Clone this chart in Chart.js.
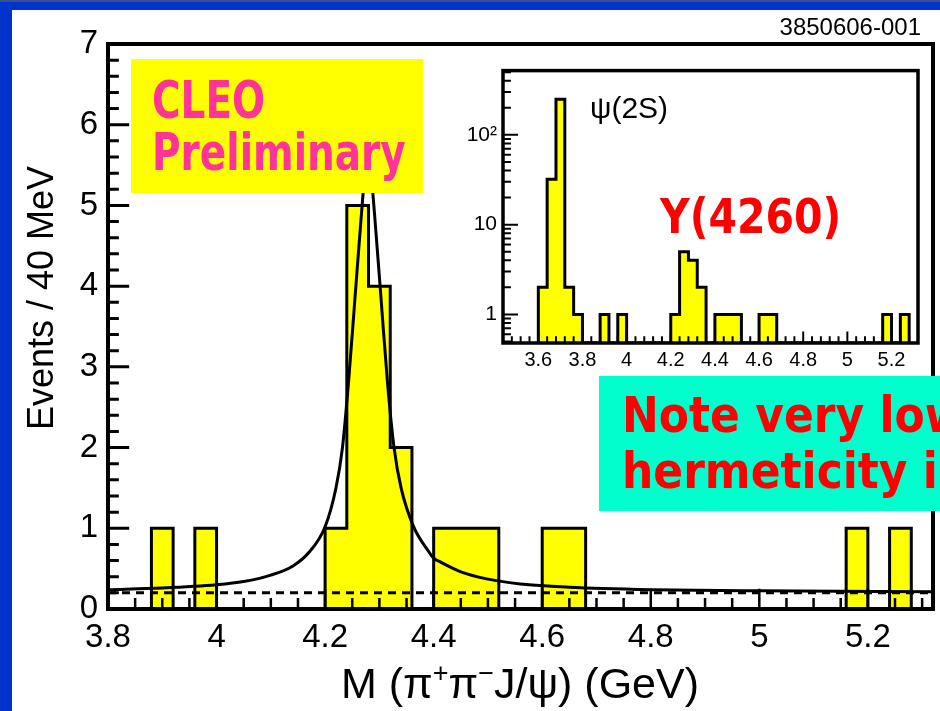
<!DOCTYPE html>
<html>
<head>
<meta charset="utf-8">
<script src="https://cdn.jsdelivr.net/npm/chart.js@4.4.1/dist/chart.umd.min.js"></script>
<style>
html,body{margin:0;padding:0;background:#0033cc;overflow:hidden;}
#wrap{position:relative;width:940px;height:711px;}
canvas{position:absolute;display:block;}
#main{left:0;top:0;}
#inset{left:455px;top:52px;}
</style>
</head>
<body>
<div id="wrap">
<canvas id="main" width="940" height="711"></canvas>
<canvas id="inset" width="470" height="322"></canvas>
</div>
<script>
// ---------------- data ----------------
const binWidth = 0.04; // GeV (40 MeV bins)

// main histogram: lower edge of non-empty bins and their counts
const mainBinLow = [3.88, 3.96, 4.20, 4.24, 4.28, 4.32, 4.40, 4.44, 4.48, 4.60, 4.64, 5.16, 5.24];
const mainCounts = [1, 1, 1, 5, 4, 2, 1, 1, 1, 1, 1, 1, 1];

// fitted signal + background curve
const fitMass   = [3.80, 3.90, 4.00, 4.05, 4.10, 4.14, 4.17, 4.20, 4.22, 4.232, 4.243, 4.255, 4.267, 4.273, 4.279, 4.285, 4.291, 4.303, 4.315, 4.327, 4.34, 4.363, 4.39, 4.40, 4.413, 4.45, 4.50, 4.56, 4.65, 4.80, 5.00, 5.32];
const fitEvents = [0.24, 0.26, 0.30, 0.34, 0.42, 0.53, 0.70, 1.02, 1.50, 2.00, 2.80, 3.85, 4.90, 5.35, 5.50, 5.35, 4.90, 3.85, 2.80, 2.00, 1.50, 1.02, 0.72, 0.63, 0.58, 0.46, 0.37, 0.31, 0.27, 0.24, 0.225, 0.215];

// background level (dashed)
const bgMass   = [3.80, 5.32];
const bgEvents = [0.20, 0.20];

const mainXTicks      = [3.8, 4.0, 4.2, 4.4, 4.6, 4.8, 5.0, 5.2];
const mainXTickLabels = ['3.8', '4', '4.2', '4.4', '4.6', '4.8', '5', '5.2'];
const mainYTicks      = [0, 1, 2, 3, 4, 5, 6, 7];
const mainYTickLabels = ['0', '1', '2', '3', '4', '5', '6', '7'];

// inset histogram (log scale)
const insetBinLow = [3.60, 3.64, 3.68, 3.72, 3.76, 3.88, 3.96, 4.20, 4.24, 4.28, 4.32, 4.40, 4.44, 4.48, 4.60, 4.64, 5.16, 5.24];
const insetCounts = [2, 32, 250, 2, 1, 1, 1, 1, 5, 4, 2, 1, 1, 1, 1, 1, 1, 1];
const insetXTicks      = [3.6, 3.8, 4.0, 4.2, 4.4, 4.6, 4.8, 5.0, 5.2];
const insetXTickLabels = ['3.6', '3.8', '4', '4.2', '4.4', '4.6', '4.8', '5', '5.2'];
const insetYTicks      = [1, 10, 100];
const insetYTickLabels = ['1', '10', '10\u00B2'];

const mainXRange  = [3.80, 5.32];
const mainYRange  = [0, 7];
const insetXRange = [3.44, 5.32];
const insetYRange = [0.48, 520];

// ---------------- helpers ----------------
const SANS = "'Liberation Sans', Arial, Helvetica, sans-serif";
const FUN  = "'DejaVu Sans', 'Noto Sans', sans-serif";

function stepPoints(lows, counts, width, base) {
  const pts = [];
  let prevHi = null;
  lows.forEach((lo, i) => {
    const hi = Math.round((lo + width) * 10000) / 10000;
    const h = counts[i];
    if (prevHi === null || Math.abs(prevHi - lo) > 1e-6) {
      if (prevHi !== null) pts.push({x: prevHi, y: base});
      pts.push({x: lo, y: base});
    }
    pts.push({x: lo, y: h});
    pts.push({x: hi, y: h});
    prevHi = hi;
  });
  pts.push({x: prevHi, y: base});
  return pts;
}
function zip(xs, ys) { return xs.map((x, i) => ({x: x, y: ys[i]})); }

// tick-mark segments expressed in data units (null point = break in the line)
function xTickSegments(values, base, tipFn) {
  const out = [];
  values.forEach(v => { out.push({x: v, y: base}); out.push({x: v, y: tipFn(v)}); out.push({x: v, y: null}); });
  return out;
}
function yTickSegments(values, base, tipFn) {
  const out = [];
  values.forEach(v => { out.push({x: base, y: v}); out.push({x: tipFn(v), y: v}); out.push({x: base, y: null}); });
  return out;
}
function stepValues(a, b, step) {
  const out = [];
  const n = Math.round((b - a) / step);
  for (let k = 0; k <= n; k++) out.push(Math.round((a + k * step) * 1e6) / 1e6);
  return out;
}
function isMultiple(v, step) { return Math.abs(v / step - Math.round(v / step)) < 1e-6; }

function drawStretched(ctx, text, x, y, font, color, sy) {
  ctx.save();
  ctx.translate(x, y);
  ctx.scale(1, sy);
  ctx.font = font;
  ctx.fillStyle = color;
  ctx.textAlign = 'left';
  ctx.textBaseline = 'alphabetic';
  ctx.fillText(text, 0, 0);
  ctx.restore();
}

function drawPieces(ctx, pieces, cx, baseY, size, family) {
  let total = 0;
  const widths = pieces.map(p => {
    ctx.font = (p.sup ? Math.round(size * 0.62) : size) + 'px ' + family;
    const w = ctx.measureText(p.t).width;
    total += w;
    return w;
  });
  let x = cx - total / 2;
  pieces.forEach((p, i) => {
    ctx.font = (p.sup ? Math.round(size * 0.62) : size) + 'px ' + family;
    ctx.fillText(p.t, x, p.sup ? baseY - size * 0.38 : baseY);
    x += widths[i];
  });
}

// ---------------- tick mark datasets ----------------
// main: x ticks every 0.05 GeV (long every 0.2), y ticks every 0.2 (long every 1)
const mainXTickData = xTickSegments(stepValues(3.80, 5.30, 0.05), 0,
  v => isMultiple(v - 3.8, 0.2) ? 0.25 : 0.135);
const mainYTickData = yTickSegments(stepValues(0, 7, 0.2), 3.80,
  v => 3.80 + (isMultiple(v, 1) ? 0.039 : 0.02));
// inset: x ticks every 0.04 GeV (long every 0.2), y ticks at 1..9 x 10^n (long at decades)
const insetXTickData = xTickSegments(stepValues(3.44, 5.32, 0.04), insetYRange[0],
  v => insetYRange[0] * (isMultiple(v - 3.6, 0.2) ? 1.34 : 1.19));
const insetLogTicks = [0.5, 0.6, 0.7, 0.8, 0.9, 1, 2, 3, 4, 5, 6, 7, 8, 9, 10, 20, 30, 40, 50, 60, 70, 80, 90, 100, 200, 300, 400, 500];
const insetYTickData = yTickSegments(insetLogTicks, insetXRange[0],
  v => insetXRange[0] + ([1, 10, 100].includes(v) ? 0.068 : 0.036));

function tickDataset(label, data, width) {
  return { label: label, data: data, borderColor: '#000000', borderWidth: width, pointRadius: 0,
           fill: false, spanGaps: false, tension: 0, order: 0, borderCapStyle: 'butt' };
}

// ---------------- main chart ----------------
const mainPlugin = {
  id: 'mainDecor',
  beforeDraw(chart) {
    const ctx = chart.ctx;
    ctx.save();
    ctx.fillStyle = '#0033cc';
    ctx.fillRect(0, 0, chart.width, chart.height);
    ctx.fillStyle = '#3b4f8f';
    ctx.fillRect(0, 0, chart.width, 2);
    ctx.fillStyle = '#ffffff';
    ctx.fillRect(12, 10, chart.width - 12, chart.height - 10);
    ctx.restore();
  },
  afterDraw(chart) {
    const ctx = chart.ctx, ca = chart.chartArea;
    ctx.save();
    ctx.strokeStyle = '#000000';
    ctx.setLineDash([]);
    ctx.lineWidth = 4;
    ctx.strokeRect(ca.left, ca.top, ca.right - ca.left, ca.bottom - ca.top);

    // axis titles
    ctx.fillStyle = '#000';
    ctx.textAlign = 'left';
    ctx.textBaseline = 'alphabetic';
    drawPieces(ctx, [
      {t: 'M (\u03C0'}, {t: '+', sup: true}, {t: '\u03C0'}, {t: '\u2212', sup: true},
      {t: 'J/\u03C8) (GeV)'}
    ], 520, 698, 43, SANS);
    ctx.save();
    ctx.translate(53, 298);
    ctx.rotate(-Math.PI / 2);
    ctx.font = '36px ' + SANS;
    ctx.textAlign = 'center';
    ctx.fillText('Events / 40 MeV', 0, 0);
    ctx.restore();

    // CLEO Preliminary
    ctx.fillStyle = '#ffff00';
    ctx.fillRect(131, 59, 292, 134);
    drawStretched(ctx, 'CLEO', 152, 118, 'bold 39px ' + FUN, '#ff3399', 1.3);
    drawStretched(ctx, 'Preliminary', 152, 170, 'bold 39px ' + FUN, '#ff3399', 1.3);
    // note box
    ctx.fillStyle = '#00ffcc';
    ctx.fillRect(599, 376, 341, 135);
    drawStretched(ctx, 'Note very low', 622, 432, 'bold 44px ' + FUN, '#ff0000', 1.15);
    drawStretched(ctx, 'hermeticity in', 622, 488, 'bold 44px ' + FUN, '#ff0000', 1.15);
    // figure id
    ctx.font = '24px ' + SANS;
    ctx.fillStyle = '#000';
    ctx.textAlign = 'right';
    ctx.fillText('3850606-001', 921, 35);
    ctx.restore();
  }
};

new Chart(document.getElementById('main'), {
  type: 'line',
  data: {
    datasets: [
      tickDataset('x ticks', mainXTickData, 2.5),
      tickDataset('y ticks', mainYTickData, 3),
      { label: 'fit', data: zip(fitMass, fitEvents), borderColor: '#000', borderWidth: 3,
        pointRadius: 0, fill: false, cubicInterpolationMode: 'monotone', order: 1 },
      { label: 'background', data: zip(bgMass, bgEvents), borderColor: '#000', borderWidth: 3,
        borderDash: [8, 6], pointRadius: 0, fill: false, order: 2 },
      { label: 'data', data: stepPoints(mainBinLow, mainCounts, binWidth, 0), borderColor: '#000',
        borderWidth: 3, backgroundColor: '#ffff00', fill: 'origin', pointRadius: 0,
        tension: 0, order: 3 }
    ]
  },
  options: {
    responsive: false, animation: false, devicePixelRatio: 1,
    layout: { padding: { top: 44, right: 7, left: 0, bottom: 0 } },
    plugins: { legend: { display: false }, tooltip: { enabled: false } },
    scales: {
      x: {
        type: 'linear', min: mainXRange[0], max: mainXRange[1],
        grid: { display: false, drawTicks: false }, border: { display: false },
        afterBuildTicks: s => { s.ticks = mainXTicks.map(v => ({ value: v })); },
        afterFit: s => { s.height = 102; },
        ticks: { callback: (v, i) => mainXTickLabels[i], font: { family: SANS, size: 33 }, color: '#000',
                 padding: 9, maxRotation: 0, autoSkip: false },
        title: { display: false }
      },
      y: {
        type: 'linear', min: mainYRange[0], max: mainYRange[1],
        grid: { display: false, drawTicks: false }, border: { display: false },
        afterBuildTicks: s => { s.ticks = mainYTicks.map(v => ({ value: v })); },
        afterFit: s => { s.width = 108; },
        ticks: { callback: (v, i) => mainYTickLabels[i], font: { family: SANS, size: 33 }, color: '#000',
                 padding: 10, autoSkip: false },
        title: { display: false }
      }
    }
  },
  plugins: [mainPlugin]
});

// ---------------- inset chart ----------------
const insetPlugin = {
  id: 'insetDecor',
  beforeDraw(chart) {
    const ctx = chart.ctx;
    ctx.save(); ctx.fillStyle = '#fff'; ctx.fillRect(0, 0, chart.width, chart.height); ctx.restore();
  },
  afterDraw(chart) {
    const ctx = chart.ctx, ca = chart.chartArea;
    ctx.save();
    ctx.strokeStyle = '#000000';
    ctx.setLineDash([]);
    ctx.lineWidth = 3.5;
    ctx.strokeRect(ca.left, ca.top, ca.right - ca.left, ca.bottom - ca.top);

    ctx.font = '30px ' + SANS;
    ctx.fillStyle = '#000';
    ctx.textAlign = 'left';
    ctx.textBaseline = 'middle';
    ctx.fillText('\u03C8(2S)', 135, 58);
    drawStretched(ctx, 'Y(4260)', 205, 181, 'bold 41px ' + FUN, '#ff0000', 1.15);
    ctx.restore();
  }
};

new Chart(document.getElementById('inset'), {
  type: 'line',
  data: {
    datasets: [
      tickDataset('x ticks', insetXTickData, 2),
      tickDataset('y ticks', insetYTickData, 2),
      { label: 'inset', data: stepPoints(insetBinLow, insetCounts, binWidth, insetYRange[0]),
        borderColor: '#000', borderWidth: 3, backgroundColor: '#ffff00', fill: 'start',
        pointRadius: 0, tension: 0, order: 1 }
    ]
  },
  options: {
    responsive: false, animation: false, devicePixelRatio: 1,
    layout: { padding: { top: 8, right: 7, left: 0, bottom: 0 } },
    plugins: { legend: { display: false }, tooltip: { enabled: false } },
    scales: {
      x: {
        type: 'linear', min: insetXRange[0], max: insetXRange[1],
        grid: { display: false, drawTicks: false }, border: { display: false },
        afterBuildTicks: s => { s.ticks = insetXTicks.map(v => ({ value: v })); },
        afterFit: s => { s.height = 31; },
        ticks: { callback: (v, i) => insetXTickLabels[i], font: { family: SANS, size: 20 }, color: '#000',
                 padding: 5, maxRotation: 0, autoSkip: false }
      },
      y: {
        type: 'logarithmic', min: insetYRange[0], max: insetYRange[1],
        grid: { display: false, drawTicks: false }, border: { display: false },
        afterBuildTicks: s => { s.ticks = insetYTicks.map(v => ({ value: v })); },
        afterFit: s => { s.width = 48; },
        ticks: { callback: (v, i) => insetYTickLabels[i], font: { family: SANS, size: 21 }, color: '#000',
                 padding: 6, autoSkip: false }
      }
    }
  },
  plugins: [insetPlugin]
});
</script>
</body>
</html>
